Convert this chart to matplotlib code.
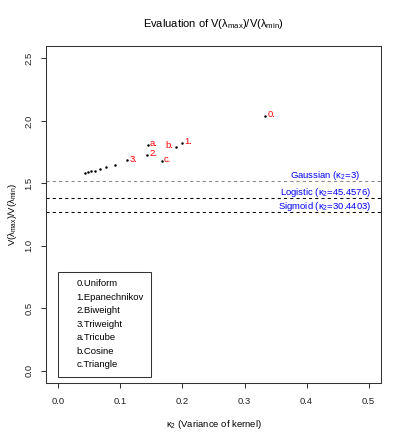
import matplotlib.pyplot as plt
from matplotlib.lines import Line2D

plt.rcParams['font.family'] = ['Liberation Sans', 'DejaVu Sans']
plt.rcParams['mathtext.fontset'] = 'custom'
plt.rcParams['mathtext.rm'] = 'Liberation Sans'
plt.rcParams['mathtext.it'] = 'Liberation Sans:italic'

# labelled kernels (kappa_2, ratio)
kernel_tags = ['0.', '1.', '2.', '3.', 'a.', 'b.', 'c.']
kernel_names = ['Uniform', 'Epanechnikov', 'Biweight', 'Triweight',
                'Tricube', 'Cosine', 'Triangle']
kernel_kappa = [0.3333, 0.2, 0.1429, 0.1111, 0.1440, 0.1894, 0.1667]
kernel_ratio = [2.043, 1.820, 1.728, 1.683, 1.805, 1.792, 1.680]

# higher order polynomial kernels (unlabelled dots)
extra_kappa = [0.0909, 0.0769, 0.0667, 0.0588, 0.0526, 0.0476, 0.0435]
extra_ratio = [1.648, 1.629, 1.613, 1.600, 1.595, 1.589, 1.581]

# reference levels
ref_labels = [r'Gaussian ($\mathregular{\kappa_2}$=3)',
              r'Logistic ($\mathregular{\kappa_2}$=45.4576)',
              r'Sigmoid ($\mathregular{\kappa_2}$=30.4403)']
ref_values = [1.522, 1.384, 1.272]
ref_colors = ['#888888', 'black', 'black']

fs = 6.8

fig = plt.figure(figsize=(4.05, 4.42), dpi=100)
ax = fig.add_axes([46/405, 1-383/442, 335/405, 337/442])

ax.plot(extra_kappa, extra_ratio, 'o', color='black', ms=1.8, mew=0)
ax.plot(kernel_kappa, kernel_ratio, 'o', color='black', ms=1.8, mew=0)

for tag, x, y in zip(kernel_tags, kernel_kappa, kernel_ratio):
    if tag == 'b.':
        ax.annotate(tag, (x, y), xytext=(-2, 1), textcoords='offset points',
                    ha='right', va='center', color='red', fontsize=fs)
    else:
        ax.annotate(tag, (x, y), xytext=(1.5, 1), textcoords='offset points',
                    ha='left', va='center', color='red', fontsize=fs)

for lab, v, c in zip(ref_labels, ref_values, ref_colors):
    ax.axhline(v, color=c, lw=0.75, linestyle=(0, (3, 3)))
    ax.text(0.43, v + 0.04, lab, color='blue', fontsize=fs,
            ha='center', va='center')

handles = [Line2D([], [], linestyle='none') for _ in kernel_names]
leg_labels = [t + n for t, n in zip(kernel_tags, kernel_names)]
leg = ax.legend(handles, leg_labels, loc='upper left',
                bbox_to_anchor=(0.0, 0.79), bbox_transform=ax.transData,
                fontsize=fs, frameon=True, fancybox=False, framealpha=1,
                edgecolor='#333333', handlelength=0.9, handletextpad=0.2,
                labelspacing=0.47, borderpad=0.8, borderaxespad=0)
leg.get_frame().set_linewidth(0.75)

ax.set_xlim(-0.02, 0.52)
ax.set_ylim(-0.1, 2.6)
ax.set_xticks([0.0, 0.1, 0.2, 0.3, 0.4, 0.5])
ax.set_yticks([0.0, 0.5, 1.0, 1.5, 2.0, 2.5])
ax.set_xticklabels(['0.0', '0.1', '0.2', '0.3', '0.4', '0.5'])
ax.set_yticklabels(['0.0', '0.5', '1.0', '1.5', '2.0', '2.5'],
                   rotation=90, va='center')
ax.tick_params(labelsize=fs, length=3.8, width=0.75, color='#333333',
               labelcolor='#222222')
ax.tick_params(axis='x', pad=6)
ax.tick_params(axis='y', pad=5)
for s in ax.spines.values():
    s.set_linewidth(0.75)
    s.set_color('#333333')

ax.set_xlabel(r'$\mathregular{\kappa_2}$ (Variance of kernel)', fontsize=fs,
              labelpad=9)
ax.set_ylabel(r'V($\mathregular{\lambda_{max}}$)/V($\mathregular{\lambda_{min}}$)',
              fontsize=fs, labelpad=4)
ax.set_title(r'Evaluation of V($\mathregular{\lambda_{max}}$)/V($\mathregular{\lambda_{min}}$)',
             fontsize=8, pad=14)

fig.savefig('out.png', dpi=100)
